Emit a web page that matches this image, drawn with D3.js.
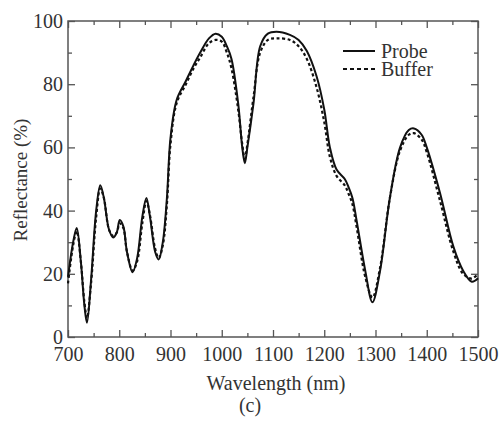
<!DOCTYPE html>
<html>
<head>
<meta charset="utf-8">
<script src="https://cdn.jsdelivr.net/npm/d3@7"></script>
<style>
  body { margin: 0; background: #fff; }
  text { font-family: "Liberation Serif", "DejaVu Serif", serif; fill: #333; }
</style>
</head>
<body>
<script>
// wavelength in nm, reflectance in %
var wavelength = [700, 710, 717, 725, 732, 737, 745, 755, 763, 770, 780, 788, 795, 801, 808, 815, 826, 835, 845, 853,
  860, 870, 877, 885, 893, 900, 912, 930, 945, 958, 975, 988, 1000, 1010, 1019, 1032, 1040, 1045, 1050, 1062, 1075,
  1090, 1107, 1133, 1150, 1166, 1185, 1200, 1211, 1224, 1240, 1247, 1255, 1263, 1280, 1294, 1309, 1328, 1348, 1365, 1375,
  1390, 1400, 1426, 1452, 1471, 1488, 1500];

var probe = [19, 30, 34.5, 24, 10, 4.5, 18, 40, 48, 44, 34, 31.5, 33, 37, 35, 27, 20.5, 25, 38, 44,
  38, 27, 24.5, 30, 44, 63, 75, 81, 86, 90, 94.5, 96, 95, 92, 88, 74, 60, 55, 60, 74, 92,
  96, 96.6, 95.6, 94, 90.5, 82.5, 72, 60, 53, 50, 47.6, 44, 37, 21, 11, 21, 44, 60, 65.5, 66,
  64, 60, 45.5, 28.6, 21, 17.5, 18.6];

var buffer = [17, 29, 33.5, 24, 11, 6, 17, 38, 47, 44, 34, 32, 33, 36, 34.5, 27, 21, 24, 36, 43,
  38.5, 28, 25, 29, 42, 61, 74, 80, 85, 88.5, 93, 94, 93.5, 90, 85, 72, 61, 56.5, 61, 76, 90,
  94, 94.5, 94, 92, 88, 79, 68, 57, 51, 48, 45.5, 42, 35, 19, 12.5, 22, 44, 59, 64, 64.5,
  62.5, 58.5, 43, 27, 20, 18.5, 20];

var xTicks = [700, 800, 900, 1000, 1100, 1200, 1300, 1400, 1500];
var xMinor = [750, 850, 950, 1050, 1150, 1250, 1350, 1450];
var yTicks = [0, 20, 40, 60, 80, 100];
var yMinor = [10, 30, 50, 70, 90];
var seriesNames = ["Probe", "Buffer"];

var W = 499, H = 421;
var mLeft = 68, mRight = 478, mTop = 21, mBottom = 337;

var svg = d3.select("body").append("svg").attr("width", W).attr("height", H);

var x = d3.scaleLinear().domain([700, 1500]).range([mLeft, mRight]);
var y = d3.scaleLinear().domain([0, 100]).range([mBottom, mTop]);

function styleAxis(g){
  g.select(".domain").remove();
  g.selectAll("line").attr("stroke", "#555").attr("stroke-width", 1.3);
  g.selectAll("text").attr("font-size", "20px").attr("fill", "#333")
    .style("font-family", "'Liberation Serif', serif");
}

// bottom
svg.append("g").attr("transform", "translate(0," + mBottom + ")")
  .call(d3.axisBottom(x).tickValues(xTicks).tickSize(-7).tickPadding(10).tickFormat(d3.format("d")))
  .call(styleAxis);
svg.append("g").attr("transform", "translate(0," + mBottom + ")")
  .call(d3.axisBottom(x).tickValues(xMinor).tickSize(-4).tickFormat(""))
  .call(styleAxis);
// top
svg.append("g").attr("transform", "translate(0," + mTop + ")")
  .call(d3.axisTop(x).tickValues(xTicks).tickSize(-7).tickFormat(""))
  .call(styleAxis);
svg.append("g").attr("transform", "translate(0," + mTop + ")")
  .call(d3.axisTop(x).tickValues(xMinor).tickSize(-4).tickFormat(""))
  .call(styleAxis);
// left
svg.append("g").attr("transform", "translate(" + mLeft + ",0)")
  .call(d3.axisLeft(y).tickValues(yTicks).tickSize(-7).tickPadding(5))
  .call(styleAxis);
svg.append("g").attr("transform", "translate(" + mLeft + ",0)")
  .call(d3.axisLeft(y).tickValues(yMinor).tickSize(-4).tickFormat(""))
  .call(styleAxis);
// right
svg.append("g").attr("transform", "translate(" + mRight + ",0)")
  .call(d3.axisRight(y).tickValues(yTicks).tickSize(-7).tickFormat(""))
  .call(styleAxis);
svg.append("g").attr("transform", "translate(" + mRight + ",0)")
  .call(d3.axisRight(y).tickValues(yMinor).tickSize(-4).tickFormat(""))
  .call(styleAxis);

// frame
svg.append("rect")
  .attr("x", mLeft).attr("y", mTop)
  .attr("width", mRight - mLeft).attr("height", mBottom - mTop)
  .attr("fill", "none").attr("stroke", "#555").attr("stroke-width", 1.5);

var line = d3.line().curve(d3.curveCatmullRom.alpha(0.5));

function pts(vals){
  return wavelength.map(function(w, i){ return [x(w), y(vals[i])]; });
}

svg.append("path").attr("d", line(pts(buffer)))
  .attr("fill", "none").attr("stroke", "#111").attr("stroke-width", 2.2)
  .attr("stroke-dasharray", "3,2.5");
svg.append("path").attr("d", line(pts(probe)))
  .attr("fill", "none").attr("stroke", "#111").attr("stroke-width", 2);

// legend
var legY = [51, 69];
seriesNames.forEach(function(name, i){
  svg.append("line")
    .attr("x1", 343).attr("x2", 375).attr("y1", legY[i]).attr("y2", legY[i])
    .attr("stroke", "#111").attr("stroke-width", 2)
    .attr("stroke-dasharray", i == 1 ? "4,3" : null);
  svg.append("text").text(name)
    .attr("x", 381).attr("y", legY[i] + 7)
    .attr("font-size", "20px");
});

// axis titles
svg.append("text").text("Wavelength (nm)")
  .attr("x", (mLeft + mRight) / 2 + 3).attr("y", 390)
  .attr("text-anchor", "middle").attr("font-size", "20px");

svg.append("text").text("Reflectance (%)")
  .attr("transform", "translate(27," + ((mTop + mBottom) / 2 + 1) + ") rotate(-90)")
  .attr("text-anchor", "middle").attr("font-size", "19px");

svg.append("text").text("(c)")
  .attr("x", 250).attr("y", 412)
  .attr("text-anchor", "middle").attr("font-size", "20px");
</script>
</body>
</html>
